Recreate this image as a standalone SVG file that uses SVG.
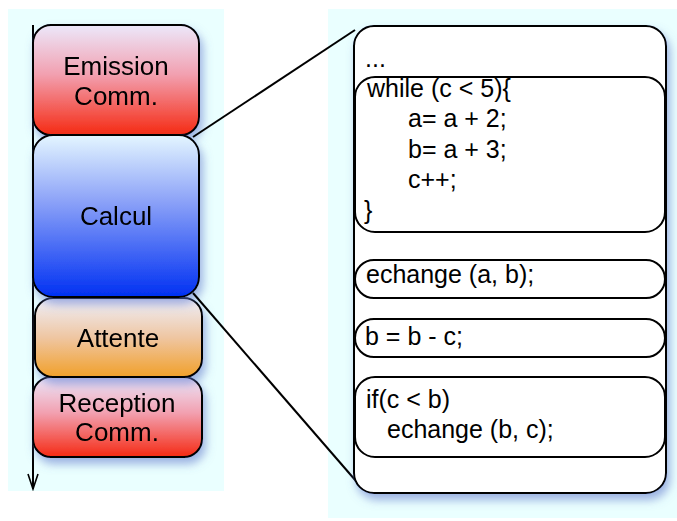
<svg xmlns="http://www.w3.org/2000/svg" width="677" height="521" viewBox="0 0 677 521">
  <defs>
    <linearGradient id="gRed" x1="0" y1="0" x2="0" y2="1">
      <stop offset="0" stop-color="#ece8fb"/>
      <stop offset="0.45" stop-color="#f2a0b0"/>
      <stop offset="1" stop-color="#f52a12"/>
    </linearGradient>
    <linearGradient id="gBlue" x1="0" y1="0" x2="0" y2="1">
      <stop offset="0" stop-color="#e4f6ff"/>
      <stop offset="0.4" stop-color="#8ea4f8"/>
      <stop offset="1" stop-color="#0030f2"/>
    </linearGradient>
    <linearGradient id="gOrange" x1="0" y1="0" x2="0" y2="1">
      <stop offset="0" stop-color="#eef0fb"/>
      <stop offset="0.5" stop-color="#efc6a2"/>
      <stop offset="1" stop-color="#f1a02a"/>
    </linearGradient>
    <filter id="shadow" x="-20%" y="-20%" width="150%" height="150%">
      <feDropShadow dx="3" dy="6" stdDeviation="5" flood-color="#5a70c8" flood-opacity="0.55"/>
    </filter>
    <!-- open V arrowhead, drawn along +x so orient="auto" points it down the line -->
    <marker id="vee" viewBox="0 0 18 12" refX="16" refY="6" markerWidth="18" markerHeight="12" markerUnits="userSpaceOnUse" orient="auto">
      <path d="M1,1 L16,6 L1,11" fill="none" stroke="#000" stroke-width="1.6"/>
    </marker>
  </defs>
  <style>
    .panel { fill: #eaffff; }
    .box { stroke: #000; stroke-width: 2; }
    .code { fill: #fff; stroke: #000; stroke-width: 2; }
    .lbl { font-family: "Liberation Sans", Arial, sans-serif; font-size: 26px; fill: #000; text-anchor: middle; }
    .txt { font-family: "Liberation Sans", Arial, sans-serif; font-size: 25px; fill: #000; }
    .line { stroke: #000; stroke-width: 2; fill: none; }
  </style>

  <rect width="677" height="521" fill="#fff"/>
  <!-- background panels -->
  <rect class="panel" x="8" y="9" width="216" height="482"/>
  <rect class="panel" x="328" y="9" width="349" height="509"/>

  <!-- time axis -->
  <g id="axis">
    <line class="line" x1="33" y1="25" x2="33" y2="489" stroke-width="1.6" marker-end="url(#vee)"/>
  </g>

  <!-- task blocks -->
  <g id="reception" filter="url(#shadow)">
    <rect class="box" x="33" y="377" width="169" height="80" rx="18" fill="url(#gRed)"/>
    <text class="lbl" x="117" y="412">Reception</text>
    <text class="lbl" x="117" y="441">Comm.</text>
  </g>
  <g id="attente" filter="url(#shadow)">
    <rect class="box" x="35" y="298" width="167" height="79" rx="18" fill="url(#gOrange)"/>
    <text class="lbl" x="118" y="347">Attente</text>
  </g>
  <g id="emission" filter="url(#shadow)">
    <rect class="box" x="33" y="25" width="166" height="110" rx="18" fill="url(#gRed)"/>
    <text class="lbl" x="116" y="75">Emission</text>
    <text class="lbl" x="116" y="105">Comm.</text>
  </g>
  <g id="calcul" filter="url(#shadow)">
    <rect class="box" x="33" y="135" width="166" height="162" rx="20" fill="url(#gBlue)"/>
    <text class="lbl" x="116" y="225">Calcul</text>
  </g>

  <!-- zoom connectors -->
  <g id="connectors">
    <line class="line" x1="193" y1="137" x2="355" y2="30"/>
    <line class="line" x1="193" y1="293" x2="356" y2="481"/>
  </g>

  <!-- code listing -->
  <g id="listing">
    <rect class="code" x="354" y="26" width="312" height="467" rx="20" filter="url(#shadow)"/>
    <text class="txt" x="365" y="67">...</text>
  </g>
  <g id="loop">
    <rect class="code" x="355" y="77" width="310" height="155" rx="20"/>
    <text class="txt" x="367" y="97">while (c &lt; 5){</text>
    <text class="txt" x="408" y="127">a= a + 2;</text>
    <text class="txt" x="408" y="158">b= a + 3;</text>
    <text class="txt" x="408" y="188">c++;</text>
    <text class="txt" x="364" y="219">}</text>
  </g>
  <g id="echange1">
    <rect class="code" x="355" y="260" width="310" height="38" rx="19"/>
    <text class="txt" x="366" y="283">echange (a, b);</text>
  </g>
  <g id="affect">
    <rect class="code" x="355" y="319" width="310" height="38" rx="19"/>
    <text class="txt" x="365" y="345">b = b - c;</text>
  </g>
  <g id="cond">
    <rect class="code" x="355" y="377" width="310" height="80" rx="20"/>
    <text class="txt" x="366" y="408">if(c &lt; b)</text>
    <text class="txt" x="387" y="438">echange (b, c);</text>
  </g>
</svg>
